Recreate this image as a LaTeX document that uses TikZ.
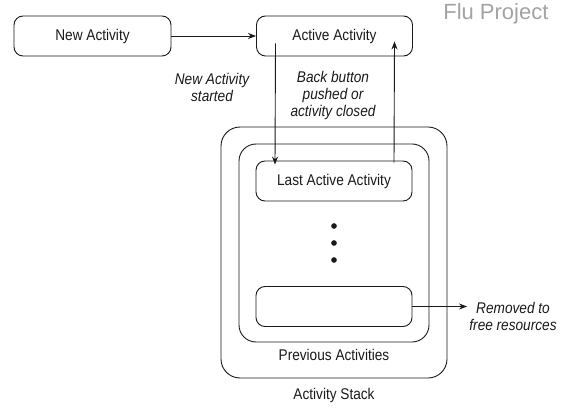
\documentclass[tikz,border=0pt]{standalone}
\usepackage{fontspec}
\usepackage{xcolor}
\usepackage{tikz}
\usetikzlibrary{calc,arrows.meta}
\newfontfamily\diagfont{Liberation Sans}[FakeStretch=0.88]
\newfontfamily\markfont{Liberation Sans}
\definecolor{bg}{HTML}{FFFFFF}
\definecolor{ink}{HTML}{1A1A1A}
\definecolor{mark}{HTML}{A3A3A3}
\tikzset{
  box/.style={draw=ink, line width=0.9pt, rounded corners=9pt, minimum width=156pt, minimum height=40pt, inner sep=0pt},
  stack/.style={draw=ink, line width=0.9pt, rounded corners=19pt, inner sep=0pt},
  arr/.style={draw=ink, line width=0.9pt, -{Stealth[length=8pt,width=6pt]}},
  dot/.style={circle, fill=ink, inner sep=2pt},
  lab/.style={text=ink, font=\diagfont\fontsize{15.5}{17.5}\selectfont},
  labi/.style={text=ink, align=center, font=\diagfont\itshape\fontsize{15.5}{17}\selectfont},
  labm/.style={text=mark, font=\markfont\fontsize{22}{24}\selectfont},
}
\begin{document}
\begin{tikzpicture}[x=1pt,y=-1pt]
  \fill[bg] (0,0) rectangle (561,411);
  \useasboundingbox (0,0) rectangle (561,411);
  \node[labm, anchor=east] (flu) at (552,14) {Flu Project};
  % stack
  \node[stack, minimum width=226pt, minimum height=251pt] (outer) at (334,252.5) {};
  \node[stack, rounded corners=17pt, minimum width=190pt, minimum height=198pt] (prev) at (334,243) {};
  \node[lab] (outerlab) at (334,395) {Activity Stack};
  \node[lab] (prevlab) at (334,355) {Previous Activities};
  % activities
  \node[box, lab, minimum width=157pt] (new) at (92.5,36) {New Activity};
  \node[box, lab] (act) at (334.5,36) {Active Activity};
  \node[box, lab] (last) at (334,181) {Last Active Activity};
  \node[box] (old) at (334,306.5) {};
  \foreach \y in {226,243,260} {\node[dot] (d\y) at (334,\y) {};}
  % transitions
  \draw[arr] (new) -- (act);
  \draw[arr] ([xshift=-59pt,yshift=13pt]act.south) -- ([xshift=-59pt,yshift=-4pt]last.north);
  \draw[arr] ([xshift=60pt,yshift=-2pt]last.north) -- ([xshift=60pt,yshift=15pt]act.south);
  \coordinate (gone) at (467,306.5);
  \draw[arr] (old.east) -- (gone);
  \node[labi] (startlab) at (212,87) {New Activity\\started};
  \node[labi] (backlab) at (333,95) {Back button\\pushed or\\activity closed};
  \node[labi] (gonelab) at (513,316) {Removed to\\free resources};
\end{tikzpicture}
\end{document}
